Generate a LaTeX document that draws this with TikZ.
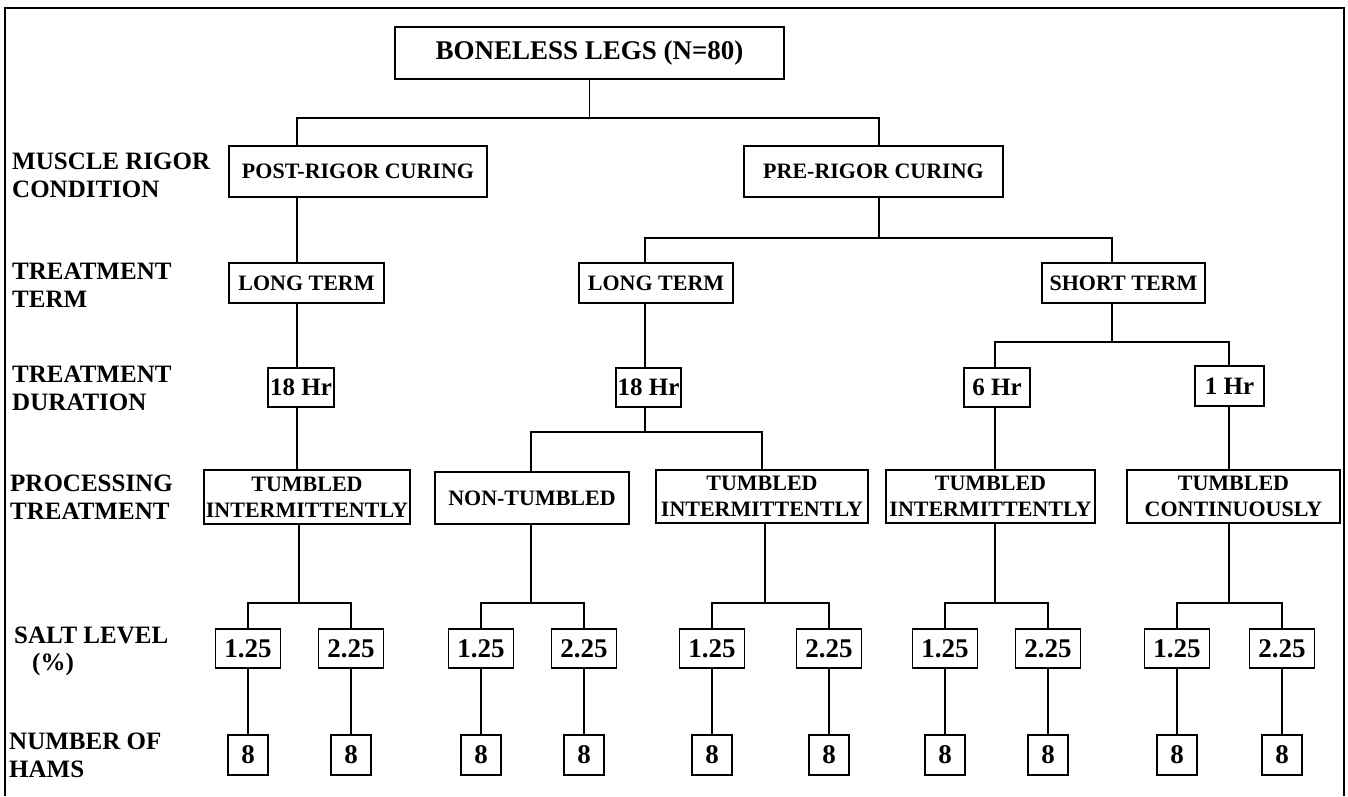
\documentclass[tikz,border=0pt]{standalone}
\usepackage{fontspec}
\setmainfont{Liberation Serif}
\newcommand\fsz[2]{\fontsize{#1}{#2}\selectfont\bfseries}
\begin{document}
\begin{tikzpicture}[x=1pt,y=-1pt,
  box/.style={draw, line width=1.8pt, inner sep=0pt, align=center, font=\fsz{22}{26}},
  rootbox/.style={box, font=\fsz{27}{30}},
  hrbox/.style={box, font=\fsz{25}{28}},
  saltbox/.style={box, font=\fsz{27}{30}, minimum width=65, minimum height=39},
  hambox/.style={box, font=\fsz{27}{30}, minimum width=40, minimum height=40},
  rowlabel/.style={anchor=north west, inner sep=0pt, align=left, font=\fsz{25}{28}},
  link/.style={line width=1.8pt},
  frame/.style={line width=2pt}]
\useasboundingbox (0,0) rectangle (1348,796);
% outer frame (open at the bottom)
\draw[frame] (5,796) -- (5,8) -- (1344,8) -- (1344,796);

% row labels
\node[rowlabel] (lab1) at (12,153) {MUSCLE RIGOR\\CONDITION};
\node[rowlabel] (lab2) at (12,263) {TREATMENT\\TERM};
\node[rowlabel] (lab3) at (12,366) {TREATMENT\\DURATION};
\node[rowlabel] (lab4) at (10,475) {PROCESSING\\TREATMENT};
\node[rowlabel, font=\fsz{25}{27}] (lab5) at (14,627) {SALT LEVEL\\\hspace*{18pt}(\%)};
\node[rowlabel] (lab6) at (9,733) {NUMBER OF\\HAMS};

% tree nodes
\node[rootbox, minimum width=389, minimum height=52] (root) at (589.5,53) {BONELESS LEGS (N=80)};
\node[box, minimum width=258, minimum height=51] (post) at (358,171.5) {POST-RIGOR CURING};
\node[box, minimum width=259, minimum height=51] (pre) at (873.5,171.5) {PRE-RIGOR CURING};
\node[box, minimum width=155, minimum height=40] (lt1) at (306.5,283) {LONG TERM};
\node[box, minimum width=154, minimum height=40] (lt2) at (656,283) {LONG TERM};
\node[box, minimum width=163, minimum height=40] (st) at (1123.5,283) {SHORT TERM};
\node[hrbox, minimum width=66, minimum height=39] (h1) at (301,387.5) {18 Hr};
\node[hrbox, minimum width=65, minimum height=39] (h2) at (648.5,387.5) {18 Hr};
\node[hrbox, minimum width=66, minimum height=39] (h3) at (997,387.5) {6 Hr};
\node[hrbox, minimum width=69, minimum height=40] (h4) at (1229.5,386) {1 Hr};
\node[box, minimum width=206, minimum height=54] (p1) at (307,497) {TUMBLED\\INTERMITTENTLY};
\node[box, minimum width=194, minimum height=52] (p2) at (532,498) {NON-TUMBLED};
\node[box, minimum width=212, minimum height=53] (p3) at (762,496.5) {TUMBLED\\INTERMITTENTLY};
\node[box, minimum width=209, minimum height=53] (p4) at (990.5,496.5) {TUMBLED\\INTERMITTENTLY};
\node[box, minimum width=213, minimum height=53] (p5) at (1233.5,496.5) {TUMBLED\\CONTINUOUSLY};

% stem columns and junction rows
\coordinate (cA) at (297,0);
\coordinate (cB) at (879,0);
\coordinate (cM) at (645,0);
\coordinate (cS) at (1112,0);
\coordinate (cN) at (531,0);
\coordinate (cT) at (762,0);
\coordinate (cU) at (995,0);
\coordinate (cV) at (1229,0);
\coordinate (j0) at (0,118);
\coordinate (j1) at (0,238);
\coordinate (j2) at (0,342);
\coordinate (j3) at (0,432);
\coordinate (j4) at (0,603);

% connectors
\draw[link] (root.south) -- (root.south |- j0);
\draw[link] (post.north -| cA) -- (j0 -| cA) -- (j0 -| cB) -- (pre.north -| cB);
\draw[link] (post.south -| cA) -- (lt1.north -| cA);
\draw[link] (lt1.south -| cA) -- (h1.north -| cA);
\draw[link] (h1.south -| cA) -- (p1.north -| cA);
\draw[link] (pre.south -| cB) -- (j1 -| cB);
\draw[link] (lt2.north -| cM) -- (j1 -| cM) -- (j1 -| cS) -- (st.north -| cS);
\draw[link] (lt2.south -| cM) -- (h2.north -| cM);
\draw[link] (h2.south -| cM) -- (j3 -| cM);
\draw[link] (p2.north -| cN) -- (j3 -| cN) -- (j3 -| cT) -- (p3.north -| cT);
\draw[link] (st.south -| cS) -- (j2 -| cS);
\draw[link] (h3.north -| cU) -- (j2 -| cU) -- (j2 -| cV) -- (h4.north -| cV);
\draw[link] (h3.south -| cU) -- (p4.north -| cU);
\draw[link] (h4.south -| cV) -- (p5.north -| cV);

% salt levels and number of hams under each processing treatment
\foreach \g/\xs/\xa/\xb in {1/299/248/351, 2/531/481/584, 3/765/712/829, 4/995/945/1048, 5/1229/1177/1282} {
  \coordinate (x\g) at (\xs,0);
  \node[saltbox] (s\g a) at (\xa,648.5) {1.25};
  \node[saltbox] (s\g b) at (\xb,648.5) {2.25};
  \node[hambox] (n\g a) at (\xa,755) {8};
  \node[hambox] (n\g b) at (\xb,755) {8};
  \draw[link] (p\g.south -| x\g) -- (j4 -| x\g);
  \draw[link] (s\g a.north) -- (s\g a.north |- j4) -- (s\g b.north |- j4) -- (s\g b.north);
  \draw[link] (s\g a.south) -- (n\g a.north);
  \draw[link] (s\g b.south) -- (n\g b.north);
}
\end{tikzpicture}
\end{document}
